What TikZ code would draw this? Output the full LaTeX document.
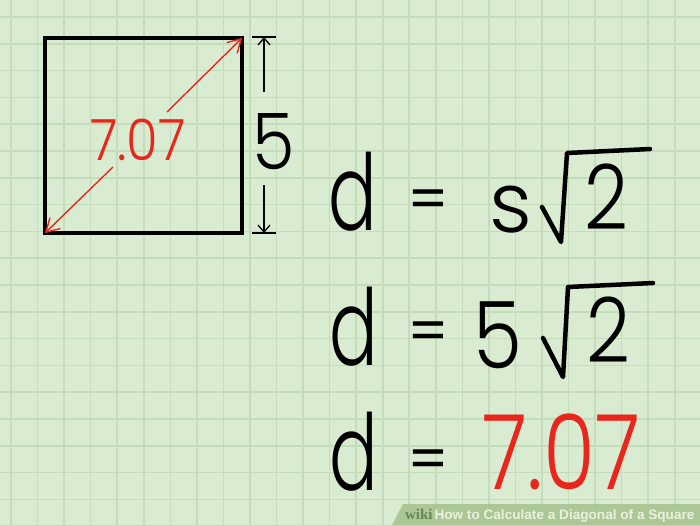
\documentclass[tikz,border=0pt]{standalone}
\usepackage{fontspec}
\IfFontExistsTF{Poppins Light}{\setmainfont{Poppins Light}}{\setmainfont{Poppins}}
\newfontfamily\eqfont{Poppins}
\newfontfamily\bannersans{Liberation Sans}
\newfontfamily\bannerserif{Liberation Serif}
\usetikzlibrary{arrows.meta}
\definecolor{paper}{HTML}{D9ECD2}
\definecolor{gridc}{HTML}{C3DCBA}
\definecolor{mred}{HTML}{E8261C}
\definecolor{bannerc}{HTML}{A8C490}
\definecolor{wikic}{HTML}{6A8458}
\definecolor{bantext}{HTML}{E8F2DE}
\begin{document}
\begin{tikzpicture}[x=1pt,y=-1pt,
  gridline/.style={gridc,line width=1.6pt},
  glyph/.style={inner sep=0pt,outer sep=0pt},
  dtxt/.style={glyph,font=\fontsize{106}{106}\selectfont,xscale=0.68},
  stxt/.style={glyph,font=\fontsize{84}{84}\selectfont},
  midtxt/.style={glyph,font=\fontsize{90}{90}\selectfont,xscale=0.85},
  eqsign/.style={glyph,font=\eqfont\fontsize{58}{58}\selectfont},
  radical/.style={line width=4.5pt,line cap=round,line join=round},
  dimline/.style={line width=1.3pt},
  diagline/.style={mred,line width=1.4pt},
  barb/.style={-{Straight Barb[length=13pt,width=15pt]},shorten >=2pt},
  dimbarb/.style={-{Straight Barb[length=7pt,width=12pt]}}
]
\useasboundingbox (0,0) rectangle (700,525);
\fill[paper] (0,0) rectangle (700,525);
\foreach \i in {0,...,26} \draw[gridline] ({11+26.55*\i},0) -- ({11+26.55*\i},525);
\foreach \j in {0,...,19} \draw[gridline] (0,{17+26.8*\j}) -- (700,{17+26.8*\j});

% square
\node[draw,line width=3.2pt,minimum width=197pt,minimum height=195pt,inner sep=0pt] (sq) at (143.5,135.5) {};
% diagonal label
\node[glyph,mred,font=\fontsize{57}{57}\selectfont,xscale=0.9] (lbl) at (138,140) {7.07};
\coordinate (g1) at (167,112);
\coordinate (g2) at (113,167);
\draw[diagline,barb] (g1) -- (sq.north east);
\draw[diagline,barb] (g2) -- (sq.south west);

% dimension
\coordinate (dt) at (264,37);
\coordinate (db) at (264,233);
\coordinate (dtl) at (252,37);
\coordinate (dtr) at (276,37);
\coordinate (dbl) at (252,233);
\coordinate (dbr) at (276,233);
\coordinate (d1) at (264,92);
\coordinate (d2) at (264,185);
\draw[dimline] (dtl) -- (dtr);
\draw[dimline] (dbl) -- (dbr);
\draw[dimline,dimbarb] (d1) -- (dt);
\draw[dimline,dimbarb] (d2) -- (db);
\node[glyph,font=\fontsize{78}{78}\selectfont,xscale=0.88] (five) at (274,141.5) {5};

% equation 1
\node[dtxt] (d1n) at (352.5,191.5) {d};
\node[eqsign] (e1) at (428,205) {=};
\node[stxt] (s1) at (511,210) {s};
\coordinate (r1a) at (542,207);
\coordinate (r1b) at (561,242);
\coordinate (r1c) at (567,153);
\coordinate (r1d) at (650,149);
\draw[radical] (r1a) -- (r1b) -- (r1c) -- (r1d);
\node[midtxt] (t1) at (606,196.5) {2};

% equation 2
\node[dtxt] (d2n) at (354,326.5) {d};
\node[eqsign] (e2) at (428,337) {=};
\node[midtxt,font=\fontsize{93}{93}\selectfont] (f2) at (497.5,335) {5};
\coordinate (r2a) at (543,338);
\coordinate (r2b) at (563,377);
\coordinate (r2c) at (568,287);
\coordinate (r2d) at (653,283);
\draw[radical] (r2a) -- (r2b) -- (r2c) -- (r2d);
\node[midtxt] (t2) at (608,330) {2};

% equation 3
\node[dtxt] (d3n) at (354,451.5) {d};
\node[eqsign] (e3) at (428,465) {=};
\node[glyph,mred,font=\fontsize{104}{104}\selectfont,xscale=0.81] (res) at (561.5,451.5) {7.07};

% banner
\fill[bannerc,opacity=0.9] (403,504) -- (700,504) -- (700,525) -- (392,525) -- cycle;
\node[glyph,anchor=base west] (wk) at (405,519) {\bannerserif\bfseries\fontsize{15}{15}\selectfont\color{wikic}wiki};
\node[glyph,anchor=base west] (bt) at ([xshift=2pt]wk.base east) {\bannersans\bfseries\fontsize{13.6}{13.6}\selectfont\color{bantext}How to Calculate a Diagonal of a Square};
\end{tikzpicture}
\end{document}
